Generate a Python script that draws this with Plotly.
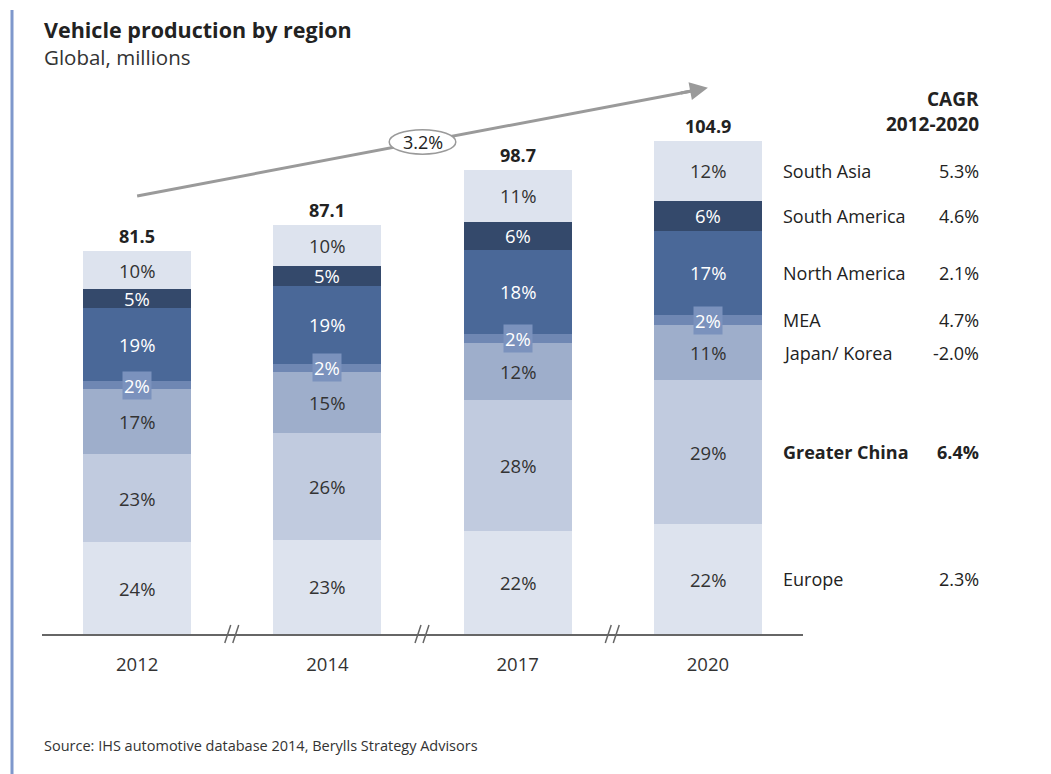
import plotly.graph_objects as go

# ---------------- data ----------------
years = ["2012", "2014", "2017", "2020"]
totals = [81.5, 87.1, 98.7, 104.9]

regions = ["Europe", "Greater China", "Japan/ Korea", "MEA",
           "North America", "South America", "South Asia"]  # bottom -> top
share_europe = [24, 23, 22, 22]
share_china = [23, 26, 28, 29]
share_japan_korea = [17, 15, 12, 11]
share_mea = [2, 2, 2, 2]
share_north_america = [19, 19, 18, 17]
share_south_america = [5, 5, 6, 6]
share_south_asia = [10, 10, 11, 12]
cagr = ["2.3%", "6.4%", "-2.0%", "4.7%", "2.1%", "4.6%", "5.3%"]
total_cagr = "3.2%"

shares = [share_europe, share_china, share_japan_korea, share_mea,
          share_north_america, share_south_america, share_south_asia]

# ---------------- styles ----------------
FONT = "Open Sans"
colors = ["#dde3ee", "#c1cbdf", "#9eaecb", "#6f87b3", "#4a6898", "#34496b", "#dde3ee"]
text_colors = ["#333333", "#333333", "#333333", "#ffffff", "#ffffff", "#ffffff", "#333333"]
mea_box = "#7b92bd"

x_pos = list(range(len(years)))
sums = [sum(s[i] for s in shares) for i in range(len(years))]

fig = go.Figure()
annotations = []
bases = [0.0] * len(years)
mids_last = []
for r, (name, sh) in enumerate(zip(regions, shares)):
    vals = [totals[i] * sh[i] / sums[i] for i in range(len(years))]
    fig.add_trace(go.Bar(
        x=x_pos, y=vals, name=name, width=0.567,
        marker=dict(color=colors[r], line=dict(width=0)),
        hoverinfo="skip", showlegend=False))
    for i in range(len(years)):
        mid = bases[i] + vals[i] / 2
        ann = dict(x=x_pos[i], y=mid, xref="x", yref="y", text=f"{sh[i]}%",
                   showarrow=False,
                   font=dict(family=FONT, size=18.5, color=text_colors[r]))
        if name == "MEA":
            ann.update(bgcolor=mea_box, borderpad=1)
        annotations.append(ann)
        if i == len(years) - 1:
            mids_last.append(mid)
        bases[i] += vals[i]

# totals above bars
for i in range(len(years)):
    annotations.append(dict(x=x_pos[i], y=totals[i], xref="x", yref="y",
                            text=f"<b>{totals[i]}</b>", showarrow=False,
                            yanchor="bottom", yshift=1,
                            font=dict(family=FONT, size=18, color="#222222")))

# right-side region labels + CAGR
for r, name in enumerate(regions):
    bold = name == "Greater China"
    t1 = f"<b>{name}</b>" if bold else name
    t2 = f"<b>{cagr[r]}</b>" if bold else cagr[r]
    annotations.append(dict(x=0.971, y=mids_last[r], xref="paper", yref="y",
                            text=t1, showarrow=False, xanchor="left", yanchor="middle",
                            font=dict(family=FONT, size=18, color="#222222")))
    annotations.append(dict(x=1.234, y=mids_last[r], xref="paper", yref="y",
                            text=t2, showarrow=False, xanchor="right", yanchor="middle",
                            font=dict(family=FONT, size=18, color="#222222")))

plot_w, plot_h = 761, 574
annotations.append(dict(x=1.234, y=(634 - 99) / plot_h, xref="paper", yref="paper",
                        text="<b>CAGR</b>", showarrow=False, xanchor="right",
                        yanchor="middle",
                        font=dict(family=FONT, size=19, color="#222222")))
annotations.append(dict(x=1.234, y=(634 - 124) / plot_h, xref="paper", yref="paper",
                        text="<b>2012-2020</b>", showarrow=False, xanchor="right",
                        yanchor="middle",
                        font=dict(family=FONT, size=19, color="#222222")))

# growth arrow
arrow_y0 = totals[0] + 11.7
arrow_y1 = totals[-1] + 11.3
x0, x1 = x_pos[0], x_pos[-1]
mx, my = (x0 + x1) / 2, (arrow_y0 + arrow_y1) / 2
shapes = [
    dict(type="line", xref="x", yref="y", x0=x0, y0=arrow_y0, x1=x1 - 0.05,
         y1=arrow_y1 - 0.05 * (arrow_y1 - arrow_y0) / (x1 - x0),
         line=dict(color="#9a9a9a", width=3), layer="above"),
    dict(type="circle", xref="x", yref="y", x0=mx - 0.175, x1=mx + 0.175,
         y0=my - 2.6, y1=my + 2.6, fillcolor="white",
         line=dict(color="#9a9a9a", width=1.5), layer="above"),
]
annotations.append(dict(x=x1, y=arrow_y1, xref="x", yref="y",
                        ax=x1 - 0.15, ay=arrow_y1 - 0.15 * (arrow_y1 - arrow_y0) / (x1 - x0),
                        axref="x", ayref="y", showarrow=True, arrowhead=2,
                        arrowsize=1.2, arrowwidth=3, arrowcolor="#9a9a9a",
                        standoff=0, text=""))
annotations.append(dict(x=mx, y=my, xref="x", yref="y", text=total_cagr,
                        showarrow=False,
                        font=dict(family=FONT, size=18, color="#222222")))

# axis break marks
for k in range(1, len(years)):
    c = k / len(years)
    for off in (-4.5, 3.5):
        shapes.append(dict(type="line", xref="paper", yref="paper",
                           x0=c + (off - 3) / plot_w, y0=-9 / plot_h,
                           x1=c + (off + 3) / plot_w, y1=9 / plot_h,
                           line=dict(color="#666666", width=1.5)))

# left accent bar
shapes.append(dict(type="line", xref="paper", yref="paper",
                   x0=-30 / plot_w, x1=-30 / plot_w, y0=(634 - 790) / plot_h,
                   y1=(634 - 10) / plot_h, line=dict(color="#7f98cc", width=3)))

# titles and source
annotations.append(dict(x=0, y=(634 - 29) / plot_h, xref="paper", yref="paper",
                        text="<b>Vehicle production by region</b>", showarrow=False,
                        xanchor="left", yanchor="middle",
                        font=dict(family=FONT, size=21.5, color="#222222")))
annotations.append(dict(x=0, y=(634 - 57) / plot_h, xref="paper", yref="paper",
                        text="Global, millions", showarrow=False,
                        xanchor="left", yanchor="middle",
                        font=dict(family=FONT, size=20.5, color="#333333")))
annotations.append(dict(x=0, y=(634 - 745) / plot_h, xref="paper", yref="paper",
                        text="Source: IHS automotive database 2014, Berylls Strategy Advisors",
                        showarrow=False, xanchor="left", yanchor="middle",
                        font=dict(family=FONT, size=14.5, color="#333333")))

fig.update_layout(
    barmode="stack",
    width=1051, height=774,
    margin=dict(l=34, r=256, t=52, b=148),
    paper_bgcolor="white", plot_bgcolor="white",
    xaxis=dict(range=[-0.5, len(years) - 0.5], tickvals=x_pos, ticktext=years,
               showgrid=False, zeroline=False, showline=True, linecolor="#666666",
               linewidth=1.5, ticks="", ticklabelstandoff=13,
               tickfont=dict(family=FONT, size=18.5, color="#333333"), fixedrange=True),
    yaxis=dict(range=[0, plot_h / 4.7], visible=False, fixedrange=True),
    annotations=annotations,
    shapes=shapes,
    font=dict(family=FONT),
)

fig.write_html("out.html")
